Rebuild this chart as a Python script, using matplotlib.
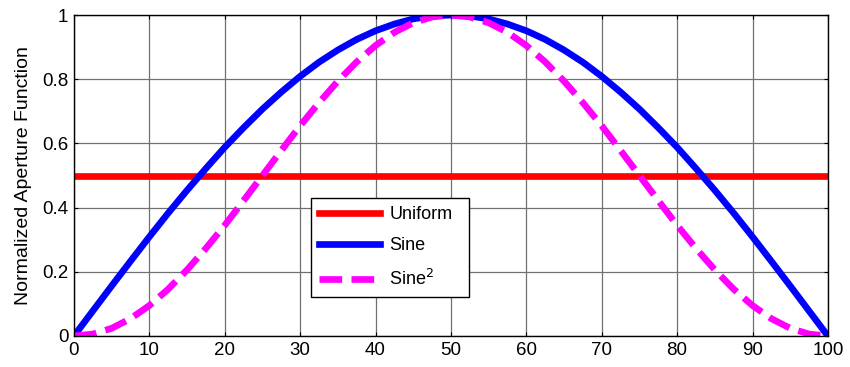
import matplotlib
matplotlib.use("Agg")
import matplotlib.pyplot as plt

plt.rcParams['font.family'] = ['Liberation Sans', 'DejaVu Sans']

# Aperture position (percent of aperture)
x = [0, 2.5, 5, 7.5, 10, 12.5, 15, 17.5, 20, 22.5, 25, 27.5, 30, 32.5, 35, 37.5,
     40, 42.5, 45, 47.5, 50, 52.5, 55, 57.5, 60, 62.5, 65, 67.5, 70, 72.5, 75,
     77.5, 80, 82.5, 85, 87.5, 90, 92.5, 95, 97.5, 100]

uniform = [0.5] * len(x)

sine = [0.000, 0.078, 0.156, 0.233, 0.309, 0.383, 0.454, 0.522, 0.588, 0.649,
        0.707, 0.760, 0.809, 0.853, 0.891, 0.924, 0.951, 0.972, 0.988, 0.997,
        1.000, 0.997, 0.988, 0.972, 0.951, 0.924, 0.891, 0.853, 0.809, 0.760,
        0.707, 0.649, 0.588, 0.522, 0.454, 0.383, 0.309, 0.233, 0.156, 0.078,
        0.000]

sine_sq = [0.000, 0.006, 0.024, 0.054, 0.095, 0.146, 0.206, 0.273, 0.345, 0.422,
           0.500, 0.578, 0.655, 0.727, 0.794, 0.854, 0.905, 0.946, 0.976, 0.994,
           1.000, 0.994, 0.976, 0.946, 0.905, 0.854, 0.794, 0.727, 0.655, 0.578,
           0.500, 0.422, 0.345, 0.273, 0.206, 0.146, 0.095, 0.054, 0.024, 0.006,
           0.000]

xticks = [0, 10, 20, 30, 40, 50, 60, 70, 80, 90, 100]
yticks = [0, 0.2, 0.4, 0.6, 0.8, 1]
yticklabels = ['0', '0.2', '0.4', '0.6', '0.8', '1']

fig = plt.figure(figsize=(8.5, 3.67), dpi=100)
ax = fig.add_axes([0.087, 0.0845, 0.887, 0.8745])

ax.plot(x, uniform, color='#ff0000', lw=4.8, label='Uniform')
ax.plot(x, sine, color='#0000ff', lw=4.8, label='Sine')
ax.plot(x, sine_sq, color='#ff00ff', lw=4.8, ls=(0, (3.4, 1.4)), label='Sine$^2$')

ax.set_xlim(0, 100)
ax.set_ylim(0, 1)
ax.set_xticks(xticks)
ax.set_yticks(yticks)
ax.set_yticklabels(yticklabels)
ax.grid(True, color='#707070', lw=0.9, ls='-')
ax.set_axisbelow(True)
ax.tick_params(direction='in', length=3, top=True, right=True, labelsize=13.5, pad=4)
for s in ax.spines.values():
    s.set_linewidth(1.0)
    s.set_color('black')

ax.set_ylabel('Normalized Aperture Function', fontsize=14, labelpad=7)

leg = ax.legend(loc='lower left', bbox_to_anchor=(0.314, 0.121, 0.21, 0.306),
                mode='expand', fontsize=13, fancybox=False, framealpha=1,
                edgecolor='black', handlelength=3.4, handletextpad=0.5,
                borderaxespad=0, borderpad=0.45, labelspacing=0.8)
leg.get_frame().set_linewidth(1.0)

fig.savefig('out.png', dpi=100)
